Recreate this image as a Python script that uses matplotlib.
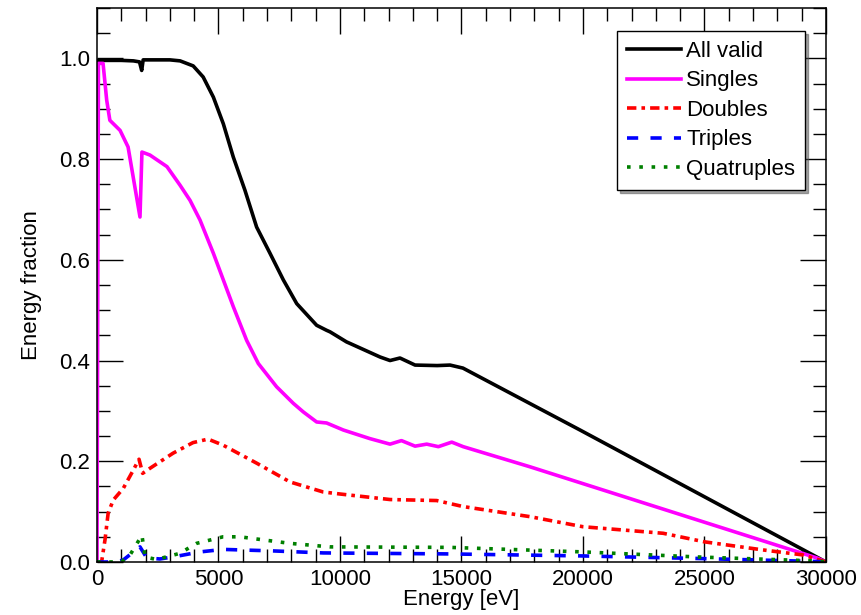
import matplotlib
matplotlib.use("Agg")
import matplotlib.pyplot as plt
from matplotlib.ticker import MultipleLocator

plt.rcParams['font.family'] = ['Liberation Sans', 'DejaVu Sans']

# Energy in eV, fraction
all_e = [0, 500, 1000, 1500, 1750, 1840, 1900, 2200, 3000, 3420, 3960, 4370,
         4790, 5200, 5610, 6090, 6570, 7120, 7670, 8220, 9040, 9450, 9590,
         10270, 10410, 11650, 12060, 12470, 13090, 14000, 14530, 15060, 19880,
         30000]
all_f = [0.996, 0.996, 0.996, 0.995, 0.993, 0.976, 0.997, 0.997, 0.997, 0.995,
         0.985, 0.963, 0.923, 0.870, 0.804, 0.738, 0.665, 0.613, 0.560, 0.513,
         0.470, 0.460, 0.457, 0.437, 0.434, 0.407, 0.400, 0.405, 0.391, 0.390,
         0.391, 0.385, 0.262, 0.0]

sgl_e = [0, 60, 250, 400, 530, 950, 1280, 1770, 1850, 2180, 2880, 3420, 3830,
         4240, 4790, 5200, 5610, 6160, 6640, 7390, 8080, 8490, 9040, 9450,
         10140, 11230, 12060, 12530, 13090, 13570, 14050, 14600, 15070, 17820,
         29630, 30000]
sgl_f = [0.0, 0.99, 0.99, 0.917, 0.877, 0.857, 0.824, 0.685, 0.814, 0.808,
         0.785, 0.748, 0.718, 0.679, 0.613, 0.560, 0.507, 0.440, 0.394, 0.348,
         0.315, 0.298, 0.278, 0.276, 0.262, 0.245, 0.234, 0.241, 0.230, 0.234,
         0.229, 0.238, 0.229, 0.189, 0.008, 0.0]

dbl_e = [0, 190, 330, 460, 670, 1080, 1490, 1730, 1880, 2180, 3130, 3950, 4570,
         5190, 6580, 7940, 9310, 10000, 12060, 13980, 15070, 17820, 20000,
         23300, 25000, 27400, 29050, 30000]
dbl_f = [0.0, 0.0, 0.044, 0.097, 0.123, 0.146, 0.182, 0.204, 0.176, 0.186,
         0.216, 0.237, 0.244, 0.232, 0.196, 0.159, 0.139, 0.135, 0.124, 0.122,
         0.110, 0.090, 0.070, 0.057, 0.040, 0.024, 0.014, 0.0]

trp_e = [0, 800, 1080, 1770, 2050, 2590, 3130, 4240, 5190, 7240, 9310, 14530,
         20000, 24700, 29630, 30000]
trp_f = [0.0, 0.0, 0.004, 0.030, 0.008, 0.006, 0.010, 0.020, 0.025, 0.022,
         0.018, 0.016, 0.012, 0.007, 0.001, 0.0]

qua_e = [0, 1000, 1360, 1850, 1980, 2450, 3400, 4100, 5190, 5880, 7940, 9590,
         14530, 20000, 24700, 29630, 30000]
qua_f = [0.0, 0.0, 0.014, 0.053, 0.010, 0.005, 0.017, 0.037, 0.050, 0.050,
         0.037, 0.030, 0.029, 0.020, 0.010, 0.002, 0.0]

FS = 16
LW = 2.6

fig = plt.figure(figsize=(8.62, 6.15), dpi=100)
ax = fig.add_axes([0.1125, 0.0862, 0.8457, 0.9008])

ax.plot(all_e, all_f, '-', color='black', lw=LW, label='All valid')
ax.plot(sgl_e, sgl_f, '-', color='magenta', lw=LW, label='Singles')
ax.plot(dbl_e, dbl_f, color='red', lw=LW, dashes=(2.6, 1.4, 1.0, 1.4), label='Doubles')
ax.plot(trp_e, trp_f, color='blue', lw=LW, dashes=(3.1, 3.4), label='Triples')
ax.plot(qua_e, qua_f, color='green', lw=LW, dashes=(1.0, 2.4), label='Quatruples')

ax.set_xlim(0, 30000)
ax.set_ylim(0, 1.1)
ax.xaxis.set_major_locator(MultipleLocator(5000))
ax.xaxis.set_minor_locator(MultipleLocator(1000))
ax.yaxis.set_major_locator(MultipleLocator(0.2))
ax.yaxis.set_minor_locator(MultipleLocator(0.05))
ax.yaxis.set_major_formatter(plt.FuncFormatter(lambda v, p: f"{v:.1f}"))

ax.tick_params(which='both', direction='in', top=True, right=True, width=1,
               labelsize=FS, color='black')
ax.tick_params(which='major', length=18.5, pad=5)
ax.tick_params(which='minor', length=9.5)
for s in ax.spines.values():
    s.set_linewidth(1.1)

ax.set_xlabel('Energy [eV]', fontsize=FS, labelpad=-1)
ax.set_ylabel('Energy fraction', fontsize=FS, labelpad=12)

leg = ax.legend(loc='upper right', bbox_to_anchor=(0.934, 0.9496),
                bbox_transform=fig.transFigure, fontsize=FS, frameon=True,
                fancybox=False, shadow=True, edgecolor='black',
                handlelength=2.4, labelspacing=0.38, borderaxespad=0,
                handletextpad=0.25, borderpad=0.45)
leg.get_frame().set_linewidth(1.0)
leg.get_frame().set_alpha(1)

fig.savefig('out.png', dpi=100)
